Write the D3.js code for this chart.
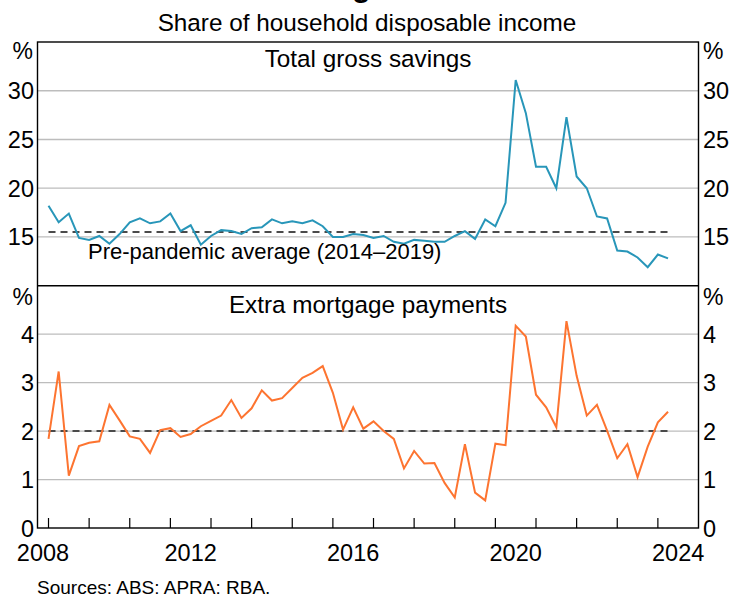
<!DOCTYPE html>
<html><head><meta charset="utf-8">
<script src="https://cdn.jsdelivr.net/npm/d3@7"></script>
<style>
body{margin:0;background:#fff;}
svg{display:block;font-family:Arial,"Liberation Sans",sans-serif;}
</style></head>
<body><svg id="c" width="732" height="599"></svg>
<script>
// ---- data ----
const firstQuarter = {year: 2008, q: 4};   // Dec quarter 2008
const savings = [18.2,16.5,17.4,14.9,14.7,15.1,14.3,15.3,16.5,16.9,
  16.4,16.6,17.4,15.6,16.2,14.2,15.1,15.7,15.6,15.3,
  15.9,16.0,16.8,16.4,16.6,16.4,16.7,16.1,15.0,15.0,
  15.3,15.2,14.9,15.1,14.5,14.3,14.7,14.6,14.5,14.5,
  15.1,15.6,14.8,16.8,16.1,18.5,31.1,27.7,22.2,22.2,
  20.0,27.3,21.2,20.0,17.1,16.9,13.6,13.5,12.9,11.9,
  13.2,12.8];
const mortgage = [1.84,3.23,1.08,1.69,1.76,1.79,2.54,2.22,1.89,1.84,
  1.55,2.02,2.06,1.88,1.94,2.10,2.21,2.32,2.64,2.27,
  2.47,2.84,2.63,2.68,2.89,3.10,3.20,3.34,2.79,2.03,
  2.49,2.05,2.20,2.00,1.84,1.23,1.59,1.33,1.34,0.93,
  0.63,1.73,0.73,0.57,1.74,1.71,4.17,3.95,2.75,2.49,
  2.08,4.27,3.14,2.32,2.54,2.01,1.44,1.73,1.05,1.68,
  2.18,2.40];
const savingsAvg = 15.5;
const mortgageAvg = 2.0;
const savingsTicks = [15,20,25,30];
const mortgageTicks = [0,1,2,3,4];
const yearLabels = [2008,2012,2016,2020,2024];
const yearTicks = d3.range(2009, 2025);

// quarter-end positions in decimal years
const qpos = savings.map((d,i) => firstQuarter.year + (firstQuarter.q + i) / 4);

// ---- layout ----
const svg = d3.select("#c");
const L = 37.5, R = 698.5, T = 42, M = 285.7, B = 528;
const x = d3.scaleLinear().domain([2008.729, 2025]).range([L, R]);
const yTop = d3.scaleLinear().domain([10, 35]).range([M, T]);
const yBot = d3.scaleLinear().domain([0, 5]).range([B, M]);

const gridC = "#bdbdbd";
// title (mostly cropped above the frame, as in the reference)
svg.append("text").attr("x", 109).attr("y", -3).attr("font-size", 30).attr("font-weight", "bold")
  .attr("fill", "#000").text("Household Savings");
svg.append("text").attr("x", 367).attr("y", 31).attr("text-anchor", "middle")
  .attr("font-size", 24.3).text("Share of household disposable income");

// gridlines
svg.append("g").selectAll("line").data(savingsTicks).join("line")
  .attr("x1", L).attr("x2", R).attr("y1", d => yTop(d)).attr("y2", d => yTop(d))
  .attr("stroke", gridC).attr("stroke-width", 1.3);
svg.append("g").selectAll("line").data(mortgageTicks.filter(d => d > 0)).join("line")
  .attr("x1", L).attr("x2", R).attr("y1", d => yBot(d)).attr("y2", d => yBot(d))
  .attr("stroke", gridC).attr("stroke-width", 1.3);

// average lines
const avg = (ys, v) => svg.append("line")
  .attr("x1", x(qpos[0])).attr("x2", x(qpos[qpos.length-1]))
  .attr("y1", ys(v)).attr("y2", ys(v))
  .attr("stroke", "#4a4a4a").attr("stroke-width", 2).attr("stroke-dasharray", "7,5");
avg(yTop, savingsAvg);
avg(yBot, mortgageAvg);

// series
svg.append("path").datum(savings)
  .attr("d", d3.line().x((d,i) => x(qpos[i])).y(d => yTop(d)))
  .attr("fill", "none").attr("stroke", "#2896b9").attr("stroke-width", 2);
svg.append("path").datum(mortgage)
  .attr("d", d3.line().x((d,i) => x(qpos[i])).y(d => yBot(d)))
  .attr("fill", "none").attr("stroke", "#fd7430").attr("stroke-width", 2);

// frame
const fr = svg.append("g").attr("stroke", "#000").attr("stroke-width", 1.4).attr("fill", "none");
fr.append("rect").attr("x", L).attr("y", T).attr("width", R - L).attr("height", B - T);
fr.append("line").attr("x1", L).attr("x2", R).attr("y1", M).attr("y2", M);

// x ticks
svg.append("g").selectAll("line").data(yearTicks).join("line")
  .attr("x1", d => x(d)).attr("x2", d => x(d)).attr("y1", B).attr("y2", B - 10)
  .attr("stroke", "#000").attr("stroke-width", 1.2);
svg.append("g").selectAll("text").data(yearLabels).join("text")
  .attr("x", d => x((Math.max(d, x.domain()[0]) + Math.min(d + 1, x.domain()[1])) / 2))
  .attr("y", 561).attr("text-anchor", "middle").attr("font-size", 23.5).text(d => d);

// y tick labels
const yl = (ticks, ys) => {
  svg.append("g").selectAll("text").data(ticks).join("text")
    .attr("x", 34).attr("y", d => ys(d) + 8.5).attr("text-anchor", "end")
    .attr("font-size", 23.5).text(d => d);
  svg.append("g").selectAll("text").data(ticks).join("text")
    .attr("x", 703).attr("y", d => ys(d) + 8.5).attr("text-anchor", "start")
    .attr("font-size", 23.5).text(d => d);
};
yl(savingsTicks, yTop);
yl(mortgageTicks, yBot);
[59, 305].forEach(yy => {
  svg.append("text").attr("x", 33).attr("y", yy).attr("text-anchor", "end").attr("font-size", 23).text("%");
  svg.append("text").attr("x", 703).attr("y", yy).attr("font-size", 23).text("%");
});

// panel titles
svg.append("text").attr("x", (L + R) / 2).attr("y", 67).attr("text-anchor", "middle")
  .attr("font-size", 24.3).text("Total gross savings");
svg.append("text").attr("x", (L + R) / 2).attr("y", 313).attr("text-anchor", "middle")
  .attr("font-size", 24.3).text("Extra mortgage payments");

// annotation
svg.append("text").attr("x", 88).attr("y", 259).attr("font-size", 22)
  .text("Pre-pandemic average (2014\u20132019)");

// sources
svg.append("text").attr("x", 37).attr("y", 594).attr("font-size", 19)
  .text("Sources: ABS: APRA: RBA.");
</script></body></html>
